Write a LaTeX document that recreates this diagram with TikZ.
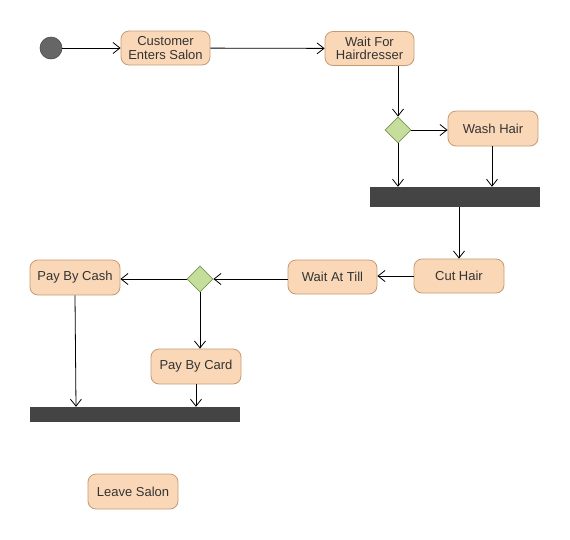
\documentclass[tikz,border=0pt]{standalone}
\usepackage{fontspec}
\setmainfont{Liberation Sans}
\usetikzlibrary{arrows.meta,shapes.geometric}
\definecolor{actfill}{HTML}{FAD8B7}
\definecolor{actdraw}{HTML}{C49A74}
\definecolor{decfill}{HTML}{C6DE9C}
\definecolor{decdraw}{HTML}{7B9650}
\definecolor{barfill}{HTML}{444444}
\definecolor{txt}{HTML}{333333}
\tikzset{
  activity/.style={draw=actdraw, fill=actfill, rounded corners=8pt, line width=0.8pt,
    minimum width=89pt, minimum height=34pt, inner sep=0pt, align=center,
    text=txt, font=\fontsize{13}{13.5}\selectfont},
  decision/.style={diamond, draw=decdraw, fill=decfill, line width=0.8pt,
    minimum width=26pt, minimum height=26pt, inner sep=0pt},
  syncbar/.style={rectangle, fill=barfill, draw=none, inner sep=0pt},
  startnode/.style={circle, fill=black!60, draw=black!70, line width=0.6pt,
    minimum size=22pt, inner sep=0pt},
  flow/.style={line width=0.8pt, -{Straight Barb[length=7pt,width=11pt,line width=0.8pt]}}
}
\begin{document}
\begin{tikzpicture}[x=1pt,y=-1pt]
  \useasboundingbox (0,0) rectangle (570,539);

  % nodes
  \node[startnode] (start) at (51,48) {};
  \node[activity] (enter) at (165.5,48) {Customer\\Enters Salon};
  \node[activity] (wait) at (369.5,48.5) {Wait For\\Hairdresser};
  \node[decision] (d1) at (398,130) {};
  \node[activity, minimum width=90pt, minimum height=35pt] (wash) at (493,128.5) {Wash Hair};
  \node[syncbar, minimum width=170pt, minimum height=20pt] (bar1) at (455,197) {};
  \node[activity, minimum width=90pt] (cut) at (459,276) {Cut Hair};
  \node[activity] (till) at (332.5,277) {Wait At Till};
  \node[decision] (d2) at (200,279) {};
  \node[activity, minimum width=90pt, minimum height=35pt] (cash) at (75,277.5) {Pay By Cash};
  \node[activity, minimum width=90pt, minimum height=35pt] (card) at (196,366.5) {Pay By Card};
  \node[syncbar, minimum width=210pt, minimum height=15pt] (bar2) at (135,414.5) {};
  \node[activity, minimum width=90pt, minimum height=35pt] (leave) at (133,491.5) {Leave Salon};

  % control flows
  \draw[flow] (start) -- (enter);
  \draw[flow] (enter) -- (wait);
  \draw[flow] (wait.south -| d1.north) -- (d1.north);
  \draw[flow] (d1.east) -- (d1.east -| wash.west);
  \draw[flow] (d1.south) -- (d1.south |- bar1.north);
  \draw[flow] (wash.south -| 492,0) -- (bar1.north -| 492,0);
  \draw[flow] (bar1.south -| cut.north) -- (cut.north);
  \draw[flow] (cut.west) -- (cut.west -| till.east);
  \draw[flow] (till.west |- d2.east) -- (d2.east);
  \draw[flow] (d2.west) -- (d2.west -| cash.east);
  \draw[flow] (d2.south) -- (d2.south |- card.north);
  \draw[flow] (card.south) -- (card.south |- bar2.north);
  \draw[flow] (cash.south -| 75,0) -- (bar2.north -| 76,0);
\end{tikzpicture}
\end{document}
